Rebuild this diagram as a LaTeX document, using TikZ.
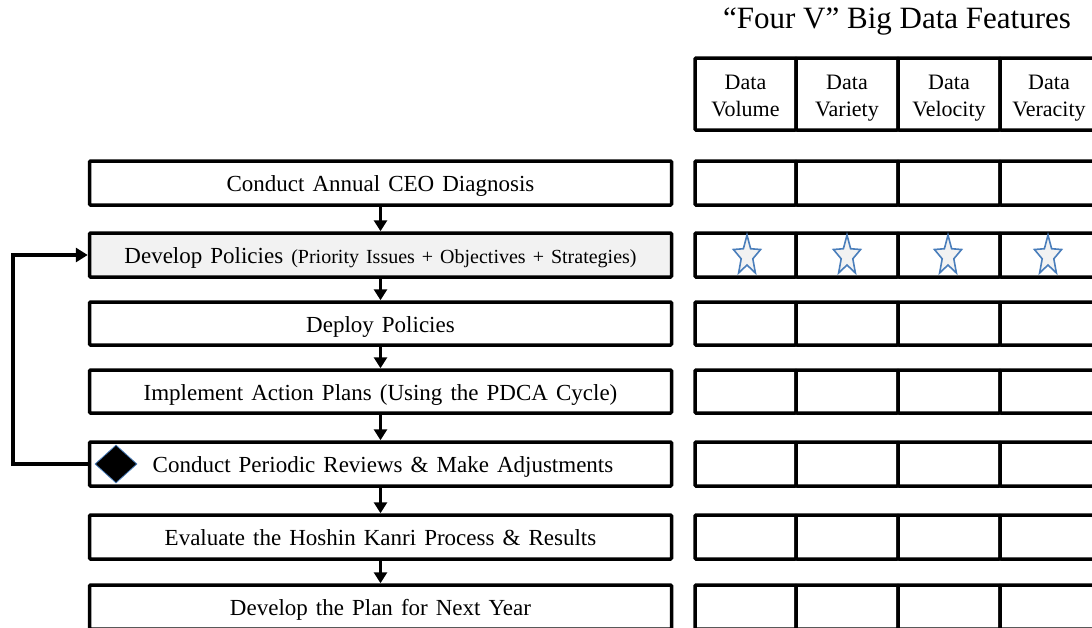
\documentclass[tikz,border=0pt]{standalone}
\usepackage{fontspec}
\setmainfont[WordSpace=1.4]{Liberation Serif}
\newfontfamily\plainserif{Liberation Serif}
\usetikzlibrary{arrows.meta,shapes.geometric}
\tikzset{
  stepbox/.style={draw=black, line width=3.5pt, rounded corners=1pt, minimum width=582pt, inner sep=0pt, text height=19pt, text depth=2pt, font=\fontsize{23}{27}\selectfont},
  cell/.style={draw=black, line width=3.5pt, rounded corners=1pt, inner sep=0pt},
  headtext/.style={anchor=base, inner sep=0pt, font=\plainserif\fontsize{22}{28}\selectfont},
  flow/.style={line width=3pt, -{Triangle[length=11pt, width=13pt]}},
  loopline/.style={line width=3.5pt, -{Triangle[length=12pt, width=14pt]}},
  starsty/.style={draw={rgb,255:red,74;green,126;blue,187}, fill={rgb,255:red,242;green,242;blue,242}, line width=1.6pt, line join=miter}
}
\begin{document}
\begin{tikzpicture}[x=1pt,y=-1pt]
\clip (0,0) rectangle (1092,627);
\fill[white] (0,0) rectangle (1092,627);
% left process boxes
\node[stepbox, minimum height=44pt] (r1) at (380.5,183) {Conduct Annual CEO Diagnosis};
\node[stepbox, minimum height=44pt, fill={rgb,255:red,242;green,242;blue,242}] (r2) at (380.5,255) {Develop Policies {\fontsize{20}{24}\selectfont(Priority Issues + Objectives + Strategies)}};
\node[stepbox, minimum height=43pt] (r3) at (380.5,323.5) {Deploy Policies};
\node[stepbox, minimum height=43pt] (r4) at (380.5,391.5) {Implement Action Plans (Using the PDCA Cycle)};
\node[stepbox, minimum height=44pt] (r5) at (380.5,464) {\hspace*{5pt}Conduct Periodic Reviews \& Make Adjustments};
\node[stepbox, minimum height=44pt] (r6) at (380.5,537) {Evaluate the Hoshin Kanri Process \& Results};
\node[stepbox, minimum height=44pt] (r7) at (380.5,607) {Develop the Plan for Next Year};
% diamond
\node[diamond, fill=black, draw={rgb,255:red,74;green,126;blue,187}, line width=0.8pt, minimum width=42pt, minimum height=38pt, inner sep=0pt] (dm) at (116,464) {};
% arrows
\draw[flow] (r1.south) -- (r2.north);
\draw[flow] (r2.south) -- (r3.north);
\draw[flow] (r3.south) -- (r4.north);
\draw[flow] (r4.south) -- (r5.north);
\draw[flow] (r5.south) -- (r6.north);
\draw[flow] (r6.south) -- (r7.north);
\coordinate (lp) at (13,464);
\draw[loopline] (r5.west) -- (lp) |- (r2.west);
% title
\node[font=\plainserif\fontsize{31}{36}\selectfont] (title) at (897,22) {“Four V” Big Data Features};
% grid
\foreach \cx/\w [count=\i] in {745.5/101,847/102,949/102,1051/102}{
  \node[cell, minimum width=\w pt, minimum height=72pt] (h\i) at (\cx,94) {};
  \node[cell, minimum width=\w pt, minimum height=44pt] (a\i) at (\cx,183) {};
  \node[cell, minimum width=\w pt, minimum height=44pt] (b\i) at (\cx,255) {};
  \node[cell, minimum width=\w pt, minimum height=43pt] (c\i) at (\cx,323.5) {};
  \node[cell, minimum width=\w pt, minimum height=43pt] (d\i) at (\cx,391.5) {};
  \node[cell, minimum width=\w pt, minimum height=44pt] (e\i) at (\cx,464) {};
  \node[cell, minimum width=\w pt, minimum height=44pt] (f\i) at (\cx,537) {};
  \node[cell, minimum width=\w pt, minimum height=44pt] (g\i) at (\cx,607) {};
}
\node[headtext] (t1a) at (745.5,89) {Data};
\node[headtext] (t1b) at (745.5,116) {Volume};
\node[headtext] (t2a) at (847,89) {Data};
\node[headtext] (t2b) at (847,116) {Variety};
\node[headtext] (t3a) at (949,89) {Data};
\node[headtext] (t3b) at (949,116) {Velocity};
\node[headtext] (t4a) at (1049,89) {Data};
\node[headtext] (t4b) at (1049,116) {Veracity};
% stars
\foreach \sx in {747,847,948,1048}{
  \draw[starsty, shift={(\sx,256)}, xscale=0.68]
    (-90:21) -- (-54:9) -- (-18:21) -- (18:9) -- (54:21) -- (90:9) -- (126:21) -- (162:9) -- (198:21) -- (234:9) -- cycle;
}
\end{tikzpicture}
\end{document}
